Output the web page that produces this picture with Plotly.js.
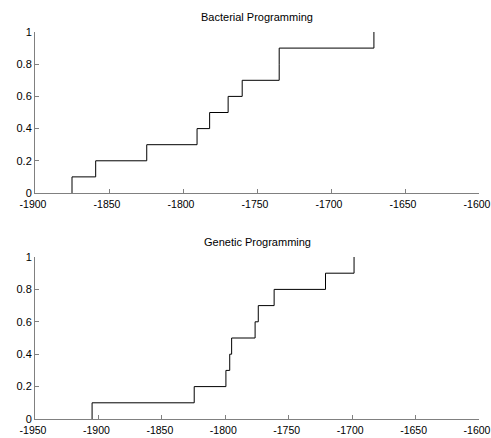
<!DOCTYPE html>
<html>
<head>
<meta charset="utf-8">
<script src="https://cdn.plot.ly/plotly-3.0.1.min.js"></script>
<style>html,body{margin:0;padding:0;background:#fff}#chart{width:491px;height:438px}</style>
</head>
<body>
<div id="chart"></div>
<script>
var bacterialX = [-1875, -1875, -1859, -1824.5, -1790.5, -1782, -1769.5, -1760, -1735, -1735, -1671];
var bacterialY = [0, 0.1, 0.2, 0.3, 0.4, 0.5, 0.6, 0.7, 0.8, 0.9, 1.0];
var geneticX = [-1905, -1905, -1824.5, -1799.5, -1796.5, -1795, -1776.5, -1774, -1761.5, -1721, -1698.5];
var geneticY = [0, 0.1, 0.2, 0.3, 0.4, 0.5, 0.6, 0.7, 0.8, 0.9, 1.0];

var topTickVals = [-1900, -1850, -1800, -1750, -1700, -1650, -1600];
var topTickText = ['-1900', '-1850', '-1800', '-1750', '-1700', '-1650', '-1600'];
var botTickVals = [-1950, -1900, -1850, -1800, -1750, -1700, -1650, -1600];
var botTickText = ['-1950', '-1900', '-1850', '-1800', '-1750', '-1700', '-1650', '-1600'];
var yTickVals = [0, 0.2, 0.4, 0.6, 0.8, 1];
var yTickText = ['0', '0.2', '0.4', '0.6', '0.8', '1'];

var titles = ['Bacterial Programming', 'Genetic Programming'];

var FONT = 'Liberation Sans, Arial, sans-serif';
var axisCommon = {
  showgrid: false, zeroline: false, showline: true,
  linecolor: '#808080', linewidth: 1,
  ticks: 'inside', ticklen: 4, tickcolor: '#808080', tickwidth: 1,
  tickfont: {family: FONT, size: 11, color: '#000'},
  tickmode: 'array', fixedrange: true, ticklabeloverflow: 'allow'
};
var xFont = {family: FONT, size: 10.5, color: '#000'};

var traces = [
  {x: bacterialX, y: bacterialY, type: 'scatter', mode: 'lines', line: {shape: 'hv', color: '#000', width: 1}, xaxis: 'x', yaxis: 'y', hoverinfo: 'skip'},
  {x: geneticX, y: geneticY, type: 'scatter', mode: 'lines', line: {shape: 'hv', color: '#000', width: 1}, xaxis: 'x2', yaxis: 'y2', hoverinfo: 'skip'}
];

var layout = {
  width: 491, height: 438,
  margin: {l: 35, r: 12, t: 32, b: 19},
  paper_bgcolor: '#fff', plot_bgcolor: '#fff',
  showlegend: false,
  xaxis: Object.assign({}, axisCommon, {range: [-1900, -1600], tickvals: topTickVals, ticktext: topTickText, anchor: 'y', domain: [0, 1], ticklabelstandoff: 1, ticklabelshift: -2, tickfont: xFont}),
  yaxis: Object.assign({}, axisCommon, {range: [0, 1], tickvals: yTickVals, ticktext: yTickText, anchor: 'x', domain: [0.584, 1]}),
  xaxis2: Object.assign({}, axisCommon, {range: [-1950, -1600], tickvals: botTickVals, ticktext: botTickText, anchor: 'y2', domain: [0, 1], ticklabelstandoff: 1, ticklabelshift: -2, tickfont: xFont}),
  yaxis2: Object.assign({}, axisCommon, {range: [0, 1], tickvals: yTickVals, ticktext: yTickText, anchor: 'x2', domain: [0, 0.4186]}),
  annotations: [
    {text: titles[0], xref: 'paper', yref: 'paper', x: 0.5, y: 1.0395, showarrow: false, xanchor: 'center', yanchor: 'middle', font: {family: FONT, size: 11, color: '#000'}},
    {text: titles[1], xref: 'paper', yref: 'paper', x: 0.5, y: 0.458, showarrow: false, xanchor: 'center', yanchor: 'middle', font: {family: FONT, size: 11, color: '#000'}}
  ]
};

Plotly.newPlot('chart', traces, layout, {staticPlot: true, displayModeBar: false});
</script>
</body>
</html>
